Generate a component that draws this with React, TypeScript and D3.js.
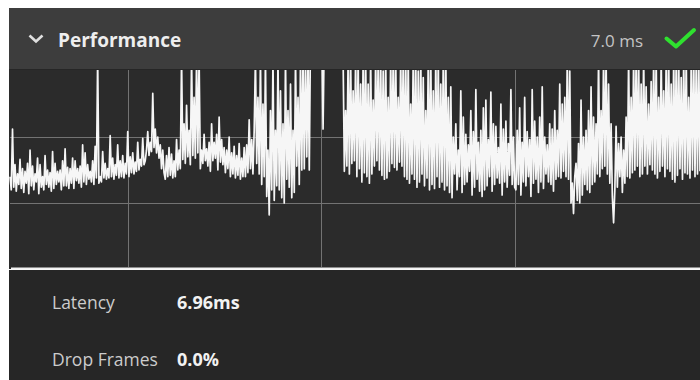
import React from "react";
import * as d3 from "d3";

// Latency samples (ms), read left to right in segments
const segWarmup = [
  7.0, 6.0, 10.6, 6.2, 7.9, 5.9, 7.2, 6.4, 8.3, 6.1,
  7.6, 5.8, 7.4, 6.5, 8.0, 5.7, 9.0, 6.3, 7.8, 6.0,
  7.2, 6.6, 8.4, 5.7, 7.9, 6.2, 7.0, 6.0, 8.6, 6.4,
  7.5, 6.2, 7.3, 5.9, 8.9, 6.1, 8.0, 6.4, 7.4, 6.6,
  7.5, 6.0, 8.2, 6.3, 9.1, 6.3, 7.7, 6.1, 7.6, 6.5,
  8.4, 6.1, 8.2, 6.7, 7.6, 6.5, 7.8, 6.2, 9.4, 6.6,
  8.8, 6.4, 7.9, 6.8, 7.4, 6.6, 8.2, 6.4, 9.3, 6.9,
  16, 6.5,
];
const segRise = [
  7.0, 6.6, 8.9, 6.9, 8.0, 6.8, 7.6, 6.9, 10.1, 7.0,
  8.4, 6.8, 7.9, 7.1, 9.4, 6.9, 8.2, 7.0, 8.6, 6.9,
  8.0, 7.2, 10.4, 7.0, 8.5, 7.3, 8.8, 7.2, 8.1, 7.4,
  9.6, 7.5, 8.3, 7.8, 9.9, 7.9,
];
const segPeak = [8.2, 9.0, 10.4, 8.6, 9.6, 8.9, 13.3, 9.2, 10.6, 8.8, 10.0, 8.4, 9.4, 7.6, 9.0, 7.3];
const segBurst1 = [
  6.8, 8.6, 7.0, 9.2, 7.1, 8.7, 6.9, 8.2, 7.0, 9.8,
  7.5, 9.0, 7.6, 16, 8.3, 11.0, 8.0, 12.4, 8.5, 10.5,
  7.9, 16, 8.6, 13.0, 8.4, 16, 8.8, 16,
];
const segMid = [
  7.6, 9.0, 8.0, 10.2, 8.2, 9.1, 7.8, 9.6, 7.4, 11.0,
  8.2, 9.6, 8.4, 10.2, 7.5, 11.5, 8.1, 9.8, 7.9, 9.2,
  7.3, 9.0, 7.6, 10.0, 7.0, 8.8, 7.2, 9.3, 6.9, 8.6,
  7.1, 9.5, 6.8, 8.4, 7.0, 9.2,
];
const segBump = [7.0, 9.4, 7.3, 11.3, 7.6, 9.8, 7.2, 10.5];
const segBurst2 = [
  16, 8.0, 13.0, 7.2, 16, 6.4, 12.5, 7.0, 16, 5.5,
  9.0, 4.1, 12.0, 6.0, 16, 5.2, 10.5, 6.3, 16, 6.0,
  13.5, 5.4, 11.0, 5.0, 16, 6.8, 12.0, 6.2, 14.0, 5.4,
  10.5, 5.8, 16, 7.8, 13.0, 6.4, 16, 7.5, 16, 7.6,
  16, 8.5, 16, 7.5,
];
const segStall = [
  18, 18, 18, 18, 18, 18, 18, 18, 18, 18,
  10.6, 18, 18, 18, 18, 18, 18, 18, 18, 18,
  18, 18, 18, 18, 18, 18,
];
const segHeavy = [
  16, 7.4, 12.0, 7.8, 16, 7.2, 16, 8.0, 13.5, 8.2,
  16, 7.0, 16, 7.6, 14.0, 6.6, 16, 7.3, 16, 7.0,
  14.0, 6.5, 16, 7.2, 12.8, 7.8, 16, 8.2, 16, 7.5,
  16, 7.1, 15.0, 6.8, 16, 6.9, 13.0, 7.4, 16, 8.0,
  16, 7.7, 16, 7.5, 13.0, 8.1, 16, 7.8, 16, 7.0,
  16, 6.8, 16, 6.5, 12.5, 7.2, 16, 6.8, 16, 6.2,
  15.0, 6.6, 16, 7.2, 14.5, 6.3, 12.0, 6.9, 16, 6.0,
  16, 6.4, 13.5, 6.1, 16, 7.0, 16, 6.2, 14.0, 6.6,
  16, 6.0, 16, 6.3, 13.0, 5.8,
];
const segSettle = [
  13.8, 5.4, 10.0, 7.2, 11.0, 6.0, 9.0, 7.0, 13.5, 5.8,
  11.5, 6.4, 10.2, 6.6, 9.4, 7.4, 12.0, 5.6, 10.4, 6.2,
  13.6, 6.8, 9.6, 5.9, 10.5, 5.5, 12.2, 6.0, 12.8, 6.3,
  9.8, 7.0, 13.4, 5.9, 11.0, 6.4, 10.8, 6.9, 9.2, 6.5,
  12.5, 5.6, 10.6, 6.6, 11.2, 6.2, 9.5, 7.1, 13.6, 6.4, 10.0, 6.2,
];
const segWave = [
  6.0, 10.5, 6.4, 12.2, 5.6, 9.6, 6.6, 13.0, 6.3, 10.4,
  7.0, 9.8, 5.5, 13.6, 6.5, 11.2, 6.8, 10.0, 5.8, 11.5,
  6.6, 13.8, 6.1, 10.0, 7.2, 9.4, 6.6, 11.0, 6.4, 10.6,
  5.9, 12.0, 6.8, 10.5, 7.0, 14.0, 6.9, 12.5, 7.4, 13.0, 7.0, 16, 6.8, 15.0,
];
const segDip = [
  5.0, 6.5, 4.2, 7.0, 8.0, 5.2, 9.5, 5.0, 12.8, 5.6,
  10.0, 6.4, 10.5, 6.0, 12.0, 5.8, 13.8, 6.4, 11.5, 6.6, 11.0, 7.2,
];
const segBurst3 = [16, 7.0, 12.0, 7.6, 16, 7.8, 16, 7.2, 14.0, 6.5, 11.0, 5.5, 3.5, 6.0];
const segCalm = [10.8, 6.2, 9.5, 7.0, 10.0, 5.8, 9.0, 6.5, 11.5, 7.0];
const segTail = [
  16, 6.9, 13.0, 7.3, 16, 7.5, 16, 7.8, 16, 7.0,
  14.0, 7.2, 16, 7.8, 13.8, 7.2, 12.5, 7.9, 14.2, 7.5,
  16, 7.2, 16, 6.9, 13.0, 7.4, 16, 7.8, 13.5, 7.0,
  16, 7.6, 16, 7.4, 14.0, 6.8, 16, 6.6, 16, 7.1,
  16, 7.6, 14.5, 6.8, 16, 7.3, 16, 7.2, 13.0, 6.9,
  16, 7.5, 16, 7.0, 16, 7.2, 16, 7.4,
];

const latency = [
  ...segWarmup, ...segRise, ...segPeak, ...segBurst1, ...segMid, ...segBump,
  ...segBurst2, ...segStall, ...segHeavy, ...segSettle, ...segWave, ...segDip,
  ...segBurst3, ...segCalm, ...segTail,
];

const yGridValues = [5, 10];
const xGridSamples = [94, 248, 403];

const title = "Performance";
const headerValue = "7.0 ms";
const statLabels = ["Latency", "Drop Frames"];
const statValues = ["6.96ms", "0.0%"];

export default function App() {
  const W = 700;
  const H = 380;
  const panelX = 9;
  const panelY = 8;
  const chartTop = 69;
  const chartBottom = 267;
  const left = 10;
  const right = 700;

  const x = d3.scaleLinear().domain([0, latency.length - 1]).range([left, right]);
  const y = d3.scaleLinear().domain([0, 10]).range([269, 137]);

  const line = d3
    .line<number>()
    .x((_, i) => x(i))
    .y((d) => y(d));

  const font = "'Open Sans', 'Noto Sans', sans-serif";
  const path = line(latency) || "";

  return (
    <svg
      width={W}
      height={H}
      style={{ position: "absolute", left: 0, top: 0, display: "block" }}
    >
      <rect x={0} y={0} width={W} height={H} fill="#ffffff" />
      {/* header */}
      <rect x={panelX} y={panelY} width={W - panelX} height={chartTop - panelY} fill="#3d3d3d" />
      {/* chart */}
      <rect x={panelX} y={chartTop} width={W - panelX} height={chartBottom - chartTop + 2} fill="#2b2b2b" />
      <line x1={panelX} x2={W} y1={chartTop + 0.5} y2={chartTop + 0.5} stroke="#262626" strokeWidth={1} />
      {/* footer */}
      <rect x={panelX} y={270} width={W - panelX} height={H - 270} fill="#262626" />

      <defs>
        <clipPath id="plotClip">
          <rect x={panelX} y={chartTop + 1} width={W - panelX} height={chartBottom - chartTop - 1} />
        </clipPath>
      </defs>

      {/* grid */}
      <g stroke="#8c8c8c" strokeWidth={1} opacity={0.75}>
        {yGridValues.map((v) => (
          <line key={"h" + v} x1={left} x2={right} y1={Math.round(y(v)) + 0.5} y2={Math.round(y(v)) + 0.5} />
        ))}
        {xGridSamples.map((s) => (
          <line key={"v" + s} x1={Math.round(x(s)) + 0.5} x2={Math.round(x(s)) + 0.5} y1={chartTop + 1} y2={chartBottom} />
        ))}
      </g>

      <g clipPath="url(#plotClip)">
        <path d={path} fill="none" stroke="#f6f6f6" strokeWidth={1.7} strokeLinejoin="round" />
      </g>

      {/* baseline */}
      <line x1={11} x2={W} y1={268.5} y2={268.5} stroke="#f2f2f2" strokeWidth={2} />

      {/* header content */}
      <polyline points="29.5,35.5 36,41.5 42.5,35.5" fill="none" stroke="#e0e0e0" strokeWidth={2.6} />
      <text x={58} y={46.5} fill="#eeeeee" fontFamily={font} fontWeight={700} fontSize={19}>
        {title}
      </text>
      <text x={643} y={46.5} textAnchor="end" fill="#c4c4c4" fontFamily={font} fontSize={17}>
        {headerValue}
      </text>
      <polyline points="666.5,38.5 676,46.5 694,30" fill="none" stroke="#2fe02f" strokeWidth={4} strokeLinecap="round" strokeLinejoin="round" />

      {/* stats */}
      {statLabels.map((lab, i) => (
        <g key={lab}>
          <text x={52} y={309 + i * 57} fill="#cccccc" fontFamily={font} fontSize={17.5}>
            {lab}
          </text>
          <text x={177} y={309 + i * 57} fill="#f2f2f2" fontFamily={font} fontWeight={700} fontSize={18}>
            {statValues[i]}
          </text>
        </g>
      ))}
    </svg>
  );
}
